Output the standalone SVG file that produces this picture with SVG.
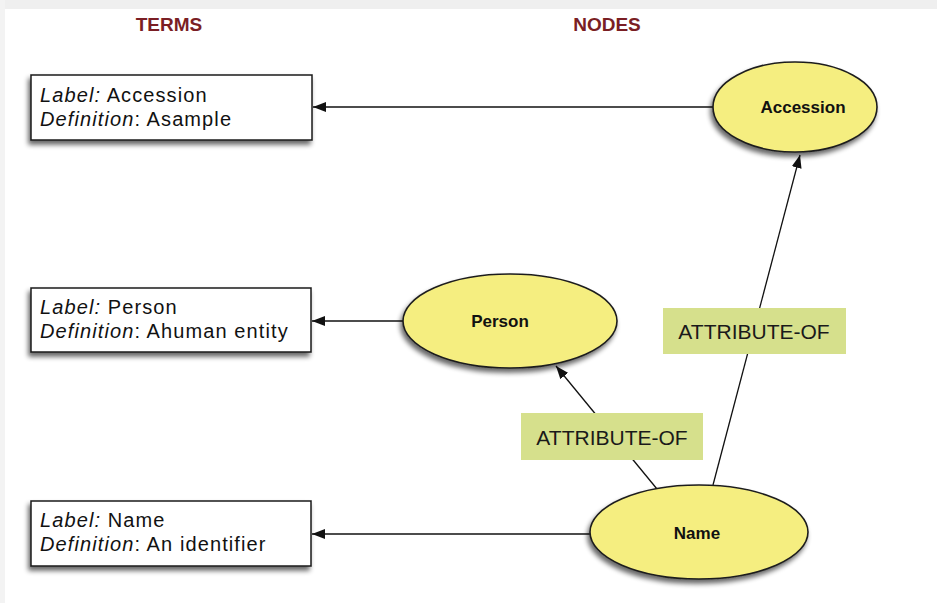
<svg xmlns="http://www.w3.org/2000/svg" width="937" height="603" viewBox="0 0 937 603">
<defs>
<style>
.title{font-family:"Liberation Sans",Arial,sans-serif;font-weight:bold;font-size:19px;fill:#7a1e24;text-anchor:middle}
.term{fill:#fff;stroke:#1a1a1a;stroke-width:1.5}
.tt{font-family:"Liberation Sans",Arial,sans-serif;font-size:20px;letter-spacing:1.1px;fill:#111}
.it{font-style:italic}
.node{fill:#f5ee80;stroke:#1e1e1e;stroke-width:1.6}
.nt{font-family:"Liberation Sans",Arial,sans-serif;font-weight:bold;font-size:17px;fill:#111;text-anchor:middle}
.lab{fill:#d6e08c}
.lt{font-family:"Liberation Sans",Arial,sans-serif;font-size:21px;fill:#1a1a1a;text-anchor:middle}
.edge{stroke:#111;stroke-width:1.3;fill:none;marker-end:url(#ah)}
</style>
<marker id="ah" markerUnits="userSpaceOnUse" markerWidth="14" markerHeight="10" refX="13" refY="5" orient="auto">
<path d="M0,0 L13,5 L0,10 z" fill="#111"/>
</marker>
<filter id="sh" x="-20%" y="-20%" width="140%" height="150%">
<feGaussianBlur in="SourceAlpha" stdDeviation="2.5"/>
<feOffset dx="-2" dy="4" result="b"/>
<feComponentTransfer><feFuncA type="linear" slope="0.6"/></feComponentTransfer>
<feMerge><feMergeNode/><feMergeNode in="SourceGraphic"/></feMerge>
</filter>
</defs>
<rect x="0" y="0" width="937" height="603" fill="#fff"/>
<rect x="0" y="0" width="937" height="9" fill="#efefef"/>
<rect x="0" y="0" width="5" height="603" fill="#f3f3f3"/>

<g id="headers">
<text class="title" x="169" y="31">TERMS</text>
<text class="title" x="607" y="31">NODES</text>
</g>

<g id="connectors">
<line class="edge" x1="713" y1="107" x2="313" y2="107"/>
<line class="edge" x1="403" y1="321" x2="312" y2="321"/>
<line class="edge" x1="590" y1="534" x2="312" y2="534"/>
<line class="edge" x1="657" y1="489" x2="556" y2="366"/>
<line class="edge" x1="713" y1="485" x2="800" y2="155"/>
</g>

<g id="term-accession">
<rect class="term" x="31" y="75" width="281" height="65" filter="url(#sh)"/>
<text class="tt" x="40" y="102"><tspan class="it">Label:</tspan> Accession</text>
<text class="tt" x="40" y="126"><tspan class="it">Definition</tspan>: Asample</text>
</g>
<g id="term-person">
<rect class="term" x="31" y="288" width="280" height="64" filter="url(#sh)"/>
<text class="tt" x="40" y="314"><tspan class="it">Label:</tspan> Person</text>
<text class="tt" x="40" y="338"><tspan class="it">Definition</tspan>: Ahuman entity</text>
</g>
<g id="term-name">
<rect class="term" x="31" y="501" width="280" height="65" filter="url(#sh)"/>
<text class="tt" x="40" y="527"><tspan class="it">Label:</tspan> Name</text>
<text class="tt" x="40" y="551"><tspan class="it">Definition</tspan>: An identifier</text>
</g>

<g id="node-accession">
<ellipse class="node" cx="795" cy="107" rx="82" ry="45" filter="url(#sh)"/>
<text class="nt" x="803" y="113">Accession</text>
</g>
<g id="node-person">
<ellipse class="node" cx="510" cy="321" rx="107" ry="47" filter="url(#sh)"/>
<text class="nt" x="500" y="327">Person</text>
</g>
<g id="node-name">
<ellipse class="node" cx="699" cy="532" rx="109" ry="47" filter="url(#sh)"/>
<text class="nt" x="697" y="539">Name</text>
</g>

<g id="label-attr-accession">
<rect class="lab" x="663" y="308" width="183" height="46"/>
<text class="lt" x="754" y="339">ATTRIBUTE-OF</text>
</g>
<g id="label-attr-person">
<rect class="lab" x="521" y="413" width="182" height="47"/>
<text class="lt" x="612" y="445">ATTRIBUTE-OF</text>
</g>
</svg>
